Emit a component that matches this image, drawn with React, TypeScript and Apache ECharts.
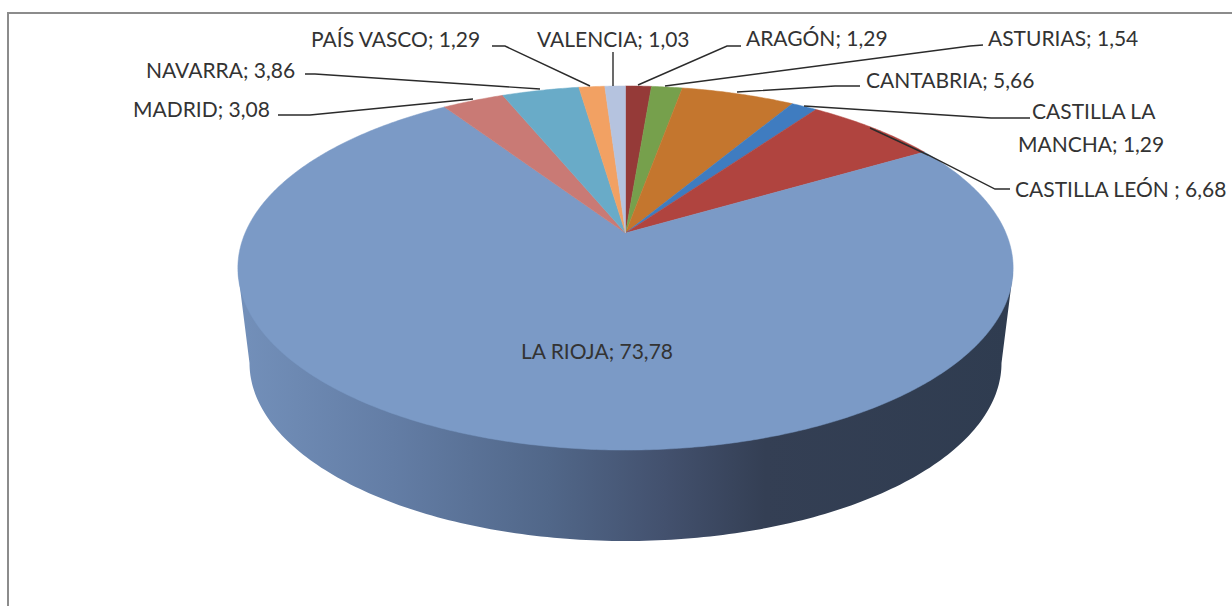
import React, { useEffect, useRef } from "react";
import * as echarts from "echarts";

const regions = ["ARAGÓN", "ASTURIAS", "CANTABRIA", "CASTILLA LA MANCHA", "CASTILLA LEÓN", "LA RIOJA", "MADRID", "NAVARRA", "PAÍS VASCO", "VALENCIA"];
const shares = [1.29, 1.54, 5.66, 1.29, 6.68, 73.78, 3.08, 3.86, 1.29, 1.03];
const sliceColors = ["#953a38", "#76a04c", "#c4762e", "#3f7cc0", "#b0443f", "#7b9ac6", "#c97a75", "#69abc8", "#f2a163", "#b5c3df"];
const total = shares.reduce((a, b) => a + b, 0);

// Pie geometry: a disc seen in perspective
const CX = 625.5, APEX_Y = 233, K = 380.4, A = 130.5, C = -0.1923;
const project = (deg: number): number[] => {
  const t = (deg * Math.PI) / 180;
  const u = Math.sin(t), v = -Math.cos(t), w = 1 + C * v;
  return [CX + (K * u) / w, (APEX_Y + A * v) / w];
};
// Wall base ellipse
const BASE = { cy: 363, rx: 376, ry: 178 };
const WALL_TOP_Y = 272;

const wallPoints = (): number[][] => {
  const pts: number[][] = [[CX - 387.5, WALL_TOP_Y]];
  for (let a = 180; a >= 0; a -= 1) {
    const t = (a * Math.PI) / 180;
    pts.push([CX + BASE.rx * Math.cos(t), BASE.cy + BASE.ry * Math.sin(t)]);
  }
  pts.push([CX + 387.5, WALL_TOP_Y]);
  return pts;
};

type LabelSpec = { lines: [string, number, number][]; leader: number[][] };
const labelSpecs: LabelSpec[] = [
  { lines: [["ARAGÓN; 1,29", 746, 37]], leader: [[741, 46], [727, 46], [638, 85]] },
  { lines: [["ASTURIAS; 1,54", 988, 37]], leader: [[983, 45], [970, 46], [665, 86]] },
  { lines: [["CANTABRIA; 5,66", 866, 79]], leader: [[860, 86], [835, 86], [737, 92]] },
  { lines: [["CASTILLA LA", 1032, 110], ["MANCHA; 1,29", 1018, 143]], leader: [[1030, 118], [991, 118], [804, 106]] },
  { lines: [["CASTILLA LEÓN ; 6,68", 1015, 188]], leader: [[1010, 189], [995, 189], [928, 155], [870, 128]] },
  { lines: [["LA RIOJA; 73,78", 521, 350]], leader: [] },
  { lines: [["MADRID; 3,08", 133, 108]], leader: [[278, 115], [310, 115], [473, 99]] },
  { lines: [["NAVARRA; 3,86", 146, 69]], leader: [[305, 74], [315, 74], [540, 89]] },
  { lines: [["PAÍS VASCO; 1,29", 311, 38]], leader: [[492, 46], [505, 46], [590, 86]] },
  { lines: [["VALENCIA; 1,03", 537, 38]], leader: [[613, 52], [613, 86]] },
];

const seriesData = regions.map((name, i) => ({
  name,
  value: [shares[i], shares.slice(0, i).reduce((a, b) => a + b, 0)],
}));

export default function App() {
  const ref = useRef<HTMLDivElement>(null);
  useEffect(() => {
    document.body.style.margin = "0";
    const chart = echarts.init(ref.current!, undefined, { renderer: "svg" });
    const wallFill = new echarts.graphic.LinearGradient(0, 0, 1, 0, [
      { offset: 0, color: "#7390ba" },
      { offset: 0.2, color: "#637da5" },
      { offset: 0.4, color: "#516789" },
      { offset: 0.55, color: "#43516e" },
      { offset: 0.68, color: "#343f54" },
      { offset: 1, color: "#2f3c50" },
    ]);
    chart.setOption({
      animation: false,
      backgroundColor: "#ffffff",
      graphic: [
        {
          type: "rect",
          z: -10,
          shape: { x: 8, y: 13, width: 1400, height: 800 },
          style: { fill: "#ffffff", stroke: "#8c8c8c", lineWidth: 2 },
        },
      ],
      series: [
        {
          type: "custom",
          coordinateSystem: "none",
          z: 2,
          silent: true,
          data: seriesData,
          renderItem: (params: any, api: any) => {
            const i = params.dataIndex;
            const start = (api.value(1) / total) * 360;
            const end = start + (api.value(0) / total) * 360;
            const pts: number[][] = [[CX, APEX_Y]];
            const steps = Math.max(2, Math.ceil((end - start) * 2));
            for (let s = 0; s <= steps; s++) pts.push(project(start + ((end - start) * s) / steps));
            const children: any[] = [];
            if (start < 180 && end > 180) {
              children.push({ type: "polygon", shape: { points: wallPoints() }, style: { fill: wallFill } });
            }
            children.push({
              type: "polygon",
              shape: { points: pts },
              style: { fill: sliceColors[i], stroke: sliceColors[i], lineWidth: 0.5 },
            });
            return { type: "group", children };
          },
        },
        {
          type: "custom",
          coordinateSystem: "none",
          z: 3,
          silent: true,
          data: seriesData,
          renderItem: (params: any) => {
            const spec = labelSpecs[params.dataIndex];
            const children: any[] = [];
            if (spec.leader.length) {
              children.push({
                type: "polyline",
                shape: { points: spec.leader },
                style: { fill: "none", stroke: "#2b2b2b", lineWidth: 1.4 },
              });
            }
            spec.lines.forEach(([text, x, y]) => {
              children.push({
                type: "text",
                x,
                y,
                style: {
                  text,
                  fill: "#333333",
                  font: "21px Lato",
                  textAlign: "left",
                  textVerticalAlign: "middle",
                },
              });
            });
            return { type: "group", children };
          },
        },
      ],
    });
    return () => chart.dispose();
  }, []);
  return <div ref={ref} style={{ position: "absolute", left: 0, top: 0, width: 1232, height: 606 }} />;
}
